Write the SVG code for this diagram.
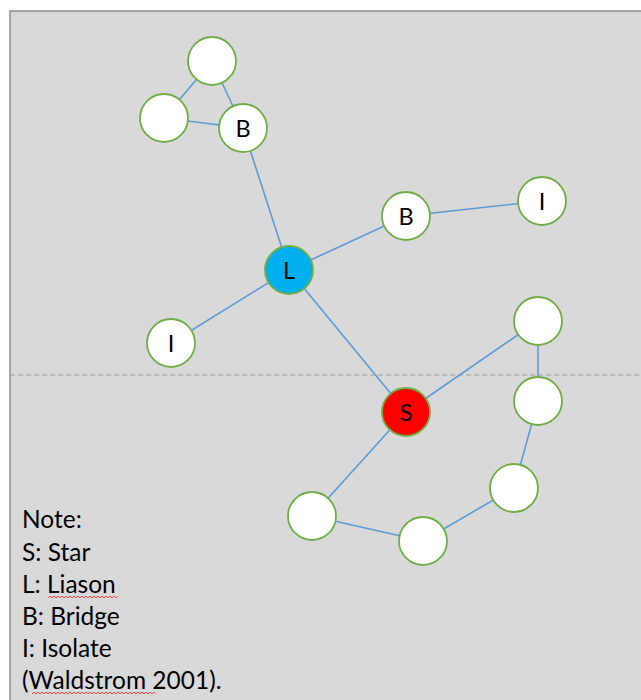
<svg xmlns="http://www.w3.org/2000/svg" width="641" height="700" viewBox="0 0 641 700">
  <style>
    .node { fill: #FFFFFF; stroke: #70AD47; stroke-width: 1.8; }
    .liaison { fill: #00B0F0; }
    .star { fill: #FF0000; }
    .edge { stroke: #5B9BD5; stroke-width: 1.6; fill: none; }
    .lbl { font-family: Lato, "Open Sans", "Liberation Sans", sans-serif; font-size: 23.5px; fill: #000000; text-anchor: middle; }
    .note { font-family: Lato, "Open Sans", "Liberation Sans", sans-serif; font-size: 24.5px; fill: #000000; }
    .squiggle { stroke: #FF5050; stroke-width: 1; fill: none; }
  </style>

  <!-- white page and grey panel -->
  <rect x="0" y="0" width="641" height="700" fill="#FFFFFF"/>
  <rect x="10" y="11" width="640" height="700" fill="#D9D9D9" stroke="#8C8C8C" stroke-width="1.5"/>

  <!-- dashed divider -->
  <line x1="10" y1="375" x2="641" y2="375" stroke="#999999" stroke-width="1.2" stroke-dasharray="5,3"/>

  <!-- connectors -->
  <g id="connectors">
    <line class="edge" x1="212" y1="61" x2="164" y2="118"/>
    <line class="edge" x1="212" y1="61" x2="243" y2="128"/>
    <line class="edge" x1="164" y1="118" x2="243" y2="128"/>
    <line class="edge" x1="243" y1="128" x2="289" y2="270"/>
    <line class="edge" x1="289" y1="270" x2="406" y2="216"/>
    <line class="edge" x1="406" y1="216" x2="542" y2="201"/>
    <line class="edge" x1="289" y1="270" x2="171" y2="343"/>
    <line class="edge" x1="289" y1="270" x2="406" y2="412"/>
    <line class="edge" x1="406" y1="412" x2="538" y2="321"/>
    <line class="edge" x1="538" y1="321" x2="538" y2="401"/>
    <line class="edge" x1="538" y1="401" x2="514" y2="488"/>
    <line class="edge" x1="514" y1="488" x2="423" y2="541"/>
    <line class="edge" x1="423" y1="541" x2="312" y2="516"/>
    <line class="edge" x1="312" y1="516" x2="406" y2="412"/>
  </g>

  <!-- nodes -->
  <g id="n-top"><circle class="node" cx="212" cy="61" r="24"/></g>
  <g id="n-left"><circle class="node" cx="164" cy="118" r="24"/></g>
  <g id="n-bridge1"><circle class="node" cx="243" cy="128" r="24"/><text class="lbl" x="243" y="136.5">B</text></g>
  <g id="n-bridge2"><circle class="node" cx="406" cy="216" r="24"/><text class="lbl" x="406" y="224.5">B</text></g>
  <g id="n-isolate1"><circle class="node" cx="542" cy="201" r="24"/><text class="lbl" x="542" y="209.5">I</text></g>
  <g id="n-liaison"><circle class="node liaison" cx="289" cy="270" r="24"/><text class="lbl" x="289" y="278.5">L</text></g>
  <g id="n-isolate2"><circle class="node" cx="171" cy="343" r="24"/><text class="lbl" x="171" y="351.5">I</text></g>
  <g id="n-star"><circle class="node star" cx="406" cy="412" r="24"/><text class="lbl" x="406" y="420.5">S</text></g>
  <g id="n-r1"><circle class="node" cx="538" cy="321" r="24"/></g>
  <g id="n-r2"><circle class="node" cx="538" cy="401" r="24"/></g>
  <g id="n-r3"><circle class="node" cx="514" cy="488" r="24"/></g>
  <g id="n-b1"><circle class="node" cx="423" cy="541" r="24"/></g>
  <g id="n-b2"><circle class="node" cx="312" cy="516" r="24"/></g>

  <!-- legend -->
  <g id="legend">
    <text class="note" x="22" y="528">Note:</text>
    <text class="note" x="22" y="561">S: Star</text>
    <text class="note" x="22" y="593">L: Liason</text>
    <text class="note" x="22" y="625">B: Bridge</text>
    <text class="note" x="22" y="657">I: Isolate</text>
    <text class="note" x="22" y="689">(Waldstrom 2001).</text>
    <path class="squiggle" d="M48,598 l2,-2 l2,2 l2,-2 l2,2 l2,-2 l2,2 l2,-2 l2,2 l2,-2 l2,2 l2,-2 l2,2 l2,-2 l2,2 l2,-2 l2,2 l2,-2 l2,2 l2,-2 l2,2 l2,-2 l2,2 l2,-2 l2,2 l2,-2 l2,2 l2,-2 l2,2 l2,-2 l2,2 l2,-2 l2,2 l2,-2 l2,2 l2,-2"/>
    <path class="squiggle" d="M32,694 l2,-2 l2,2 l2,-2 l2,2 l2,-2 l2,2 l2,-2 l2,2 l2,-2 l2,2 l2,-2 l2,2 l2,-2 l2,2 l2,-2 l2,2 l2,-2 l2,2 l2,-2 l2,2 l2,-2 l2,2 l2,-2 l2,2 l2,-2 l2,2 l2,-2 l2,2 l2,-2 l2,2 l2,-2 l2,2 l2,-2 l2,2 l2,-2 l2,2 l2,-2 l2,2 l2,-2 l2,2 l2,-2 l2,2 l2,-2 l2,2 l2,-2 l2,2 l2,-2 l2,2 l2,-2 l2,2 l2,-2 l2,2 l2,-2 l2,2 l2,-2 l2,2 l2,-2 l2,2 l2,-2 l2,2 l2,-2 l2,2"/>
  </g>
</svg>
